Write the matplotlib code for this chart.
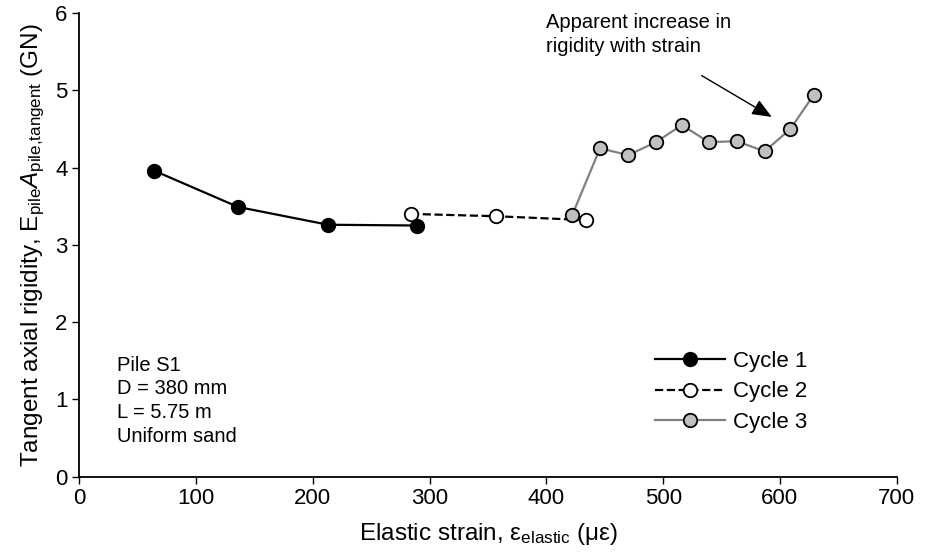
import matplotlib
matplotlib.use("Agg")
import matplotlib.pyplot as plt

plt.rcParams["font.family"] = ["Liberation Sans", "DejaVu Sans"]
plt.rcParams["mathtext.fontset"] = "custom"
plt.rcParams["mathtext.rm"] = "Liberation Sans"
plt.rcParams["mathtext.it"] = "Liberation Sans:italic"

# Elastic strain (microstrain) and tangent axial rigidity (GN)
cycle1_x = [64, 136, 213, 289]
cycle1_y = [3.96, 3.49, 3.26, 3.25]

cycle2_x = [284, 357, 434]
cycle2_y = [3.40, 3.37, 3.32]

cycle3_x = [422, 446, 470, 494, 516, 539, 563, 587, 609, 629]
cycle3_y = [3.38, 4.25, 4.16, 4.33, 4.55, 4.33, 4.34, 4.21, 4.50, 4.94]

x_ticks = [0, 100, 200, 300, 400, 500, 600, 700]
y_ticks = [0, 1, 2, 3, 4, 5, 6]

fig = plt.figure(figsize=(9.35, 5.57), dpi=100)
ax = fig.add_axes([0.0848, 0.1442, 0.8742, 0.8325])

ms = 9.7
ax.plot(cycle1_x, cycle1_y, "-o", color="black", lw=1.6, ms=ms,
        mfc="black", mec="black", mew=1.3, label="Cycle 1", zorder=4)
ax.plot(cycle2_x, cycle2_y, "--o", color="black", lw=1.6, ms=ms,
        mfc="white", mec="black", mew=1.3, label="Cycle 2", zorder=3)
ax.plot(cycle3_x, cycle3_y, "-o", color="#808080", lw=1.6, ms=ms,
        mfc="#c0c0c0", mec="black", mew=1.3, label="Cycle 3", zorder=5)

ax.set_xlim(0, 700)
ax.set_ylim(0, 6)
ax.set_xticks(x_ticks)
ax.set_yticks(y_ticks)
ax.tick_params(labelsize=16, direction="out", length=5, width=1)
for side in ("top", "right"):
    ax.spines[side].set_visible(False)
for side in ("left", "bottom"):
    ax.spines[side].set_linewidth(1.3)

ax.set_xlabel(r"Elastic strain, ε$_{\mathrm{elastic}}$ (με)", fontsize=17.5, labelpad=8)
ax.set_ylabel(r"Tangent axial rigidity, E$_{\mathrm{pile}}$$\mathit{A}$$_{\mathrm{pile{,}tangent}}$ (GN)",
              fontsize=17.5, labelpad=6)

ax.text(32, 0.98, "Pile S1\nD = 380 mm\nL = 5.75 m\nUniform sand",
        fontsize=14.5, va="center", ha="left", linespacing=1.33)

ax.annotate("", xy=(593, 4.655), xytext=(533, 5.19),
            arrowprops=dict(arrowstyle="-|>,head_length=1.2,head_width=0.5",
                            color="black", lw=1, shrinkA=0, shrinkB=0))
ax.text(400, 6.0, "Apparent increase in\nrigidity with strain",
        fontsize=14.5, va="top", ha="left", linespacing=1.35, clip_on=False)

ax.legend(loc="upper left", bbox_to_anchor=(655 / 935, 1 - 351 / 557),
          bbox_transform=fig.transFigure, frameon=False,
          fontsize=16, handlelength=3.15, handletextpad=0.36, labelspacing=0.42,
          borderpad=0, borderaxespad=0)

fig.savefig("out.png", dpi=100)
